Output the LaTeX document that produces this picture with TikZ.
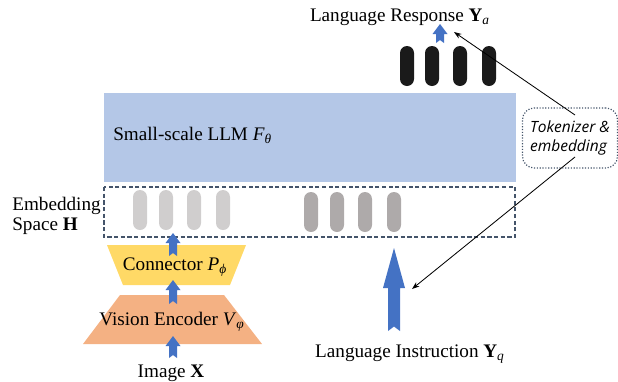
\documentclass[tikz,border=0pt]{standalone}
\usepackage{fontspec}
\setmainfont{Liberation Serif}
\newfontfamily\handfont{Open Sans}
\usetikzlibrary{arrows.meta,calc}

\definecolor{llmblue}{HTML}{B4C7E7}
\definecolor{connyellow}{HTML}{FFD966}
\definecolor{encorange}{HTML}{F4B183}
\definecolor{visgray}{HTML}{D0CECE}
\definecolor{txtgray}{HTML}{AEAAAA}
\definecolor{outblack}{HTML}{1A1A1A}
\definecolor{embline}{HTML}{44546A}
\definecolor{arrowblue}{HTML}{4472C4}

\tikzset{
  pill/.style={rectangle, rounded corners=4.2pt, minimum width=8.4pt,
    minimum height=24pt, inner sep=0pt},
  lbl/.style={font=\fontsize{11.5}{12}\selectfont, inner sep=0pt},
  tokbox/.style={draw=embline, densely dotted, line width=0.7pt,
    rounded corners=7pt, minimum width=57pt, minimum height=36pt,
    align=left, inner sep=2pt, font=\handfont\itshape\fontsize{9.3}{11}\selectfont},
  thinarrow/.style={-{Stealth[length=4.5pt,width=3.2pt]}, line width=0.5pt},
}

% block arrow: shaft half width, head half width, head length, base, tip
\newcommand{\bluearrow}[5]{%
  \fill[arrowblue] let \p1=#4, \p2=#5 in
    (\x1-#1,\y1) -- (\x1,\y1+0.75*#1) -- (\x1+#1,\y1)
    -- (\x1+#1,\y2-#3) -- (\x1+#2,\y2-#3) -- (\x2,\y2)
    -- (\x1-#2,\y2-#3) -- (\x1-#1,\y2-#3) -- cycle;}

\begin{document}
\begin{tikzpicture}[x=0.6pt, y=-0.6pt]
    \useasboundingbox (0,0) rectangle (618,381);

    % LLM block
    \fill[llmblue] (104,93) rectangle (516,182);
    \node[lbl, anchor=base west] (llm) at (113,140)
      {Small-scale LLM \textit{F}\textsubscript{\textit{θ}}};

    % embedding space
    \draw[embline, dash pattern=on 2.5pt off 1.5pt, line width=0.7pt]
      (104,187) rectangle (515,237);
    \node[lbl, anchor=north west, align=left] (emb) at (12,197)
      {Embedding\\Space \textbf{H}};

    \foreach \x [count=\i] in {140,166,194,223}
      \node[pill, fill=visgray] (v\i) at (\x,210) {};
    \foreach \x [count=\i] in {311,337,365,394}
      \node[pill, fill=txtgray] (q\i) at (\x,212) {};

    % output tokens
    \foreach \x [count=\i] in {407,432,460,489}
      \node[pill, fill=outblack] (a\i) at (\x,66) {};
    \node[lbl, anchor=base] (resp) at (400,21)
      {Language Response \textbf{Y}\textsubscript{\textit{a}}};

    % connector and vision encoder
    \fill[connyellow] (107,245) -- (246,245) -- (230,285) -- (123,285) -- cycle;
    \node[lbl, anchor=base] (conn) at (175,270)
      {Connector \textit{P}\textsubscript{\textit{ϕ}}};
    \fill[encorange] (120,295) -- (224,295) -- (262,344) -- (83,344) -- cycle;
    \node[lbl, anchor=base] (enc) at (172,325)
      {Vision Encoder \textit{V}\textsubscript{\textit{φ}}};

    \node[lbl, anchor=base] (img) at (171,377) {Image \textbf{X}};
    \node[lbl, anchor=base] (instr) at (410,357)
      {Language Instruction \textbf{Y}\textsubscript{\textit{q}}};

    % blue flow arrows
    \coordinate (imgtop) at (173,358);
    \coordinate (encbot) at (173,336);
    \coordinate (enctop) at (173,304);
    \coordinate (connbot) at (173,280);
    \coordinate (conntop) at (173,256);
    \coordinate (embbot) at (173,233);
    \coordinate (outtop) at (440,43);
    \coordinate (respbot) at (440,24);
    \coordinate (instrtop) at (394,331);
    \coordinate (qbot) at (394,248);

    \bluearrow{2.4pt}{4.5pt}{6pt}{(imgtop)}{(encbot)}
    \bluearrow{2.4pt}{4.5pt}{6pt}{(enctop)}{(connbot)}
    \bluearrow{2.4pt}{4.5pt}{6pt}{(conntop)}{(embbot)}
    \bluearrow{2.4pt}{4.5pt}{6pt}{(outtop)}{(respbot)}
    \bluearrow{3.6pt}{6.6pt}{24pt}{(instrtop)}{(qbot)}

    % tokenizer
    \node[tokbox] (tok) at (570,138) {Tokenizer \&\\embedding};
    \coordinate (respin) at (454,32);
    \coordinate (instrin) at (412,289);
    \draw[thinarrow] ($(tok.center)+(5,-23)$) -- (respin);
    \draw[thinarrow] ($(tok.center)+(5,19)$) -- (instrin);
\end{tikzpicture}
\end{document}
